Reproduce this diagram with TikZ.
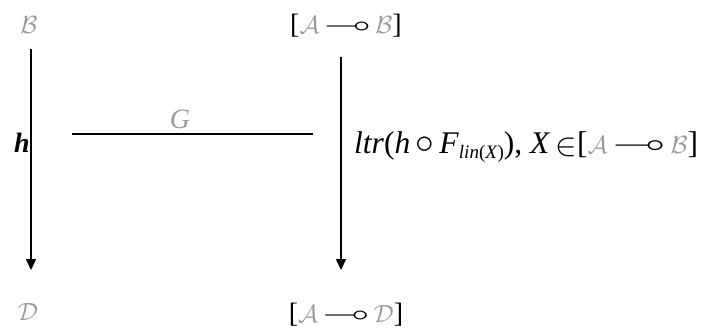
\documentclass[tikz,border=0pt]{standalone}
\usepackage{amssymb}
\usepackage{graphicx}
\usepackage{fontspec}
\setmainfont{Liberation Serif}
\usetikzlibrary{arrows.meta}
\definecolor{faded}{gray}{0.6}
\newcommand{\fc}[1]{\textcolor{faded}{$\mathcal{#1}$}}
\newcommand{\lolli}{\,\scalebox{1.5}[1]{$\multimap$}\,}
\newcommand{\comp}{\,\raisebox{0.05ex}{\scalebox{1.5}{$\circ$}}\,}
\newcommand{\elem}{\,\raisebox{-0.1ex}{\scalebox{1.3}{$\in$}}}
\begin{document}
\begin{tikzpicture}[x=1pt,y=-1pt,
  lbl/.style={font=\fontsize{28}{32}\selectfont, inner sep=0pt},
  big/.style={font=\fontsize{31.5}{36}\selectfont, inner sep=0pt},
  arr/.style={line width=1.5pt, -{Triangle[length=11pt,width=10pt]}},
  plain/.style={line width=1.5pt}]
\useasboundingbox (0,0) rectangle (708,335);
\node[lbl] (B) at (29,25) {\fc{B}};
\node[lbl] (AB) at (346,26) {[\fc{A}\lolli\fc{B}]};
\node[lbl] (D) at (28,312) {\fc{D}};
\node[lbl] (AD) at (346,315) {[\fc{A}\lolli\fc{D}]};
\coordinate (ls) at (31,49);
\coordinate (le) at (31,270);
\coordinate (rs) at (341,57);
\coordinate (re) at (341,270);
\draw[arr] (ls) -- (le);
\draw[arr] (rs) -- (re);
\coordinate (g1) at (72,134);
\coordinate (g2) at (313,134);
\draw[plain] (g1) -- (g2);
\node[lbl, text=faded] (G) at (180,119) {\textit{G}};
\node[lbl, anchor=east] (h) at (30,143) {\textbf{\textit{h}}};
\node[big, anchor=west] (F) at (354,147) {\textit{ltr}(\textit{h}\comp\textit{F}\raisebox{-0.3ex}{\fontsize{19}{21}\selectfont\textit{lin}(\textit{X})}), \textit{X}\elem[\fc{A}\lolli\fc{B}]};
\end{tikzpicture}
\end{document}
